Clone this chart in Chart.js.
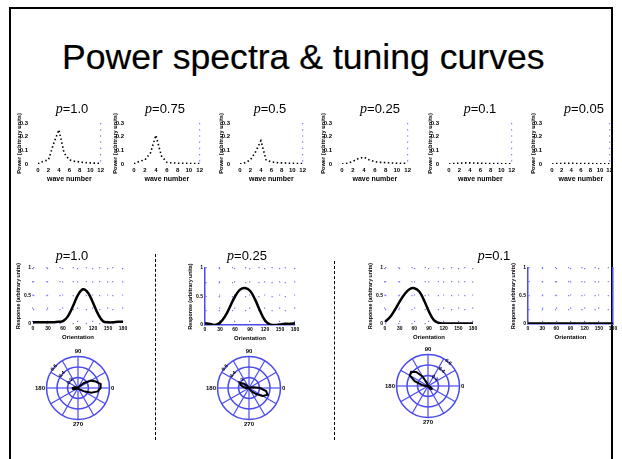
<!DOCTYPE html>
<html>
<head>
<meta charset="utf-8">
<script src="https://cdn.jsdelivr.net/npm/chart.js@4.4.1/dist/chart.umd.min.js"></script>
<style>
  body { margin: 0; width: 622px; height: 459px; position: relative; overflow: hidden; background: #fff; font-family: "Liberation Sans", Arial, sans-serif; }
  .frame { position: absolute; left: 9px; top: 7px; width: 600px; height: 480px; border: 2px solid #000; }
  .title { position: absolute; left: 62px; top: 40px; font-size: 35.6px; line-height: 35px; white-space: nowrap; -webkit-text-stroke: 0.2px #000; }
  .plabel { position: absolute; font-size: 13px; line-height: 13px; white-space: nowrap; transform: translateX(-50%); }
  .plabel i { font-family: "Liberation Serif", serif; font-size: 14px; }
  .sep { position: absolute; width: 0; border-left: 1px dashed #000; }
  canvas { position: absolute; }
</style>
</head>
<body>
<div class="frame"></div>
<div class="title">Power spectra &amp; tuning curves</div>
<div class="sep" style="left:155px; top:254px; height:186px"></div>
<div class="sep" style="left:334px; top:261px; height:179px"></div>

<script>
// power spectra (top row)
const waveNumbers = [0, 1, 2, 3, 4, 5, 6, 7, 8, 9, 10, 11, 12];
const powerP100 = [0, 0.02, 0.03, 0.15, 0.25, 0.08, 0.03, 0.02, 0.015, 0.01, 0.008, 0.006, 0.005];
const powerP075 = [0, 0.02, 0.03, 0.08, 0.21, 0.06, 0.012, 0.008, 0.006, 0.005, 0.004, 0.004, 0.003];
const powerP050 = [0, 0.01, 0.03, 0.09, 0.17, 0.03, 0.015, 0.01, 0.008, 0.006, 0.005, 0.004, 0.004];
const powerP025 = [0, 0.005, 0.02, 0.04, 0.05, 0.03, 0.016, 0.012, 0.01, 0.008, 0.006, 0.005, 0.005];
const powerP010 = [0, 0.004, 0.006, 0.008, 0.008, 0.007, 0.005, 0.004, 0.003, 0.003, 0.002, 0.002, 0.002];
const powerP005 = [0, 0.003, 0.004, 0.005, 0.005, 0.004, 0.004, 0.003, 0.003, 0.002, 0.002, 0.002, 0.002];
const spectraLabels = ['1.0', '0.75', '0.5', '0.25', '0.1', '0.05'];
const powerTicks = [0, 0.1, 0.2, 0.3];

// tuning curves (middle row)
const orientations = [0, 10, 20, 30, 40, 50, 60, 70, 80, 90, 100, 110, 120, 130, 140, 150, 160, 170, 180];
const tuneP100 = [0.03, 0.03, 0.03, 0.03, 0.03, 0.04, 0.05, 0.14, 0.32, 0.52, 0.62, 0.56, 0.38, 0.18, 0.05, 0.03, 0.03, 0.04, 0.04];
const tuneP025 = [0.03, 0.02, 0.0, 0.04, 0.15, 0.32, 0.5, 0.62, 0.65, 0.6, 0.45, 0.25, 0.08, 0.01, 0.0, 0.01, 0.02, 0.02, 0.03];
const tuneP010 = [0.04, 0.12, 0.25, 0.4, 0.53, 0.62, 0.64, 0.58, 0.42, 0.22, 0.07, 0.02, 0.01, 0.01, 0.01, 0.01, 0.01, 0.01, 0.01];
const tuneP010b = [0.01, 0.01, 0.01, 0.01, 0.01, 0.01, 0.01, 0.01, 0.01, 0.01, 0.01, 0.01, 0.01, 0.01, 0.01, 0.01, 0.01, 0.01, 0.01];
const tuningLabels = ['1.0', '0.25', '0.1'];

// polar tuning (bottom row), one value per 10 degrees from 0 to 350
const polarP100 = [0.43, 0.44, 0.36, 0.28, 0.15, 0.05, 0.02, 0.01, 0.01, 0.01, 0.01, 0.01, 0.01, 0.01, 0.01, 0.01, 0.03, 0.07,
                   0.1, 0.1, 0.07, 0.04, 0.01, 0.01, 0.01, 0.01, 0.01, 0.01, 0.01, 0.01, 0.01, 0.02, 0.05, 0.12, 0.27, 0.38];
const polarP025 = [0.21, 0.09, 0.03, 0.01, 0.01, 0.01, 0.01, 0.01, 0.01, 0.01, 0.01, 0.01, 0.01, 0.06, 0.13, 0.19, 0.17, 0.11,
                   0.05, 0.02, 0.01, 0.01, 0.01, 0.01, 0.01, 0.01, 0.01, 0.01, 0.01, 0.01, 0.04, 0.09, 0.18, 0.3, 0.38, 0.33];
const polarP010 = [0.01, 0.01, 0.01, 0.01, 0.01, 0.01, 0.01, 0.01, 0.01, 0.01, 0.01, 0.06, 0.21, 0.35, 0.42, 0.4, 0.27, 0.12,
                   0.04, 0.01, 0.01, 0.01, 0.01, 0.01, 0.01, 0.01, 0.01, 0.01, 0.01, 0.01, 0.03, 0.07, 0.09, 0.08, 0.04, 0.01];
const polarTicks = [0.2, 0.4, 0.6];

const BLUE = '#4a4af0';
const DOTS = '#7777f2';
Chart.defaults.font.family = 'Liberation Sans';
Chart.defaults.color = '#000';
Chart.defaults.animation = false;
Chart.defaults.plugins.legend.display = false;
Chart.defaults.plugins.tooltip.enabled = false;

function addCanvas(left, top, width, height) {
    const c = document.createElement('canvas');
    c.width = width; c.height = height;
    c.style.left = left + 'px'; c.style.top = top + 'px';
    document.body.appendChild(c);
    return c.getContext('2d');
}

function addLabel(text, cx, top) {
    const d = document.createElement('div');
    d.className = 'plabel';
    d.innerHTML = '<i>p</i>=' + text;
    d.style.left = cx + 'px'; d.style.top = top + 'px';
    document.body.appendChild(d);
}

const tickFont = {size: 6, weight: 'bold'};
const smallTickFont = {size: 5, weight: 'bold'};

function spectrumChart(x0, x1, values) {
    const yW = 22, xH = 19, padTop = 12, padRight = 4;
    const ctx = addCanvas(Math.round(x0 - yW), 123 - padTop, Math.round(yW + x1 - x0 + padRight), padTop + 41 + xH);
    new Chart(ctx, {
        type: 'line',
        data: {
            labels: waveNumbers,
            datasets: [{
                data: waveNumbers.map((k, i) => ({x: k, y: values[i]})),
                borderColor: '#000',
                borderWidth: 1.6,
                borderDash: [1.5, 2.5],
                pointRadius: 0,
                tension: 0,
            }],
        },
        options: {
            responsive: false,
            layout: {padding: {top: padTop, right: padRight, left: 0, bottom: 0}},
            scales: {
                x: {
                    type: 'linear', min: 0, max: 12,
                    ticks: {stepSize: 2, padding: 3, font: tickFont, maxRotation: 0, autoSkip: false},
                    grid: {
                        drawTicks: false,
                        lineWidth: 1.2,
                        color: c => (c.tick && c.tick.value === 12) ? DOTS : 'transparent',
                    },
                    border: {display: false, dash: [1.2, 5]},
                    title: {display: true, text: 'wave number', font: {size: 7, weight: 'bold'}, padding: 0},
                    afterFit: s => { s.height = xH; },
                },
                y: {
                    min: 0, max: 0.3,
                    afterBuildTicks: s => { s.ticks = powerTicks.map(v => ({value: v})); },
                    ticks: {padding: 2, font: tickFont},
                    grid: {display: false},
                    border: {display: false},
                    title: {display: true, text: 'Power (arbitrary units)', font: {size: 5.7, weight: 'bold'}, padding: 0},
                    afterFit: s => { s.width = yW; },
                },
            },
        },
    });
}

function tuningChart(x0, x1, y1, values, blueAxes, rightAxis) {
    const yW = 18, xH = 17, padTop = 8, padRight = 7;
    const ctx = addCanvas(Math.round(x0 - yW), 268 - padTop, Math.round(yW + x1 - x0 + padRight), padTop + (y1 - 268) + xH);
    const scales = {
        x: {
            type: 'linear', min: 0, max: 180,
            ticks: {stepSize: 30, padding: 2, font: smallTickFont, maxRotation: 0, minRotation: 0, autoSkip: false},
            grid: {drawTicks: false, color: DOTS, lineWidth: 1.2},
            border: {display: blueAxes, color: BLUE, width: 1.5, dash: [1.2, 12]},
            title: {display: true, text: 'Orientation', font: {size: 6, weight: 'bold'}, padding: 0},
            afterFit: s => { s.height = xH; },
        },
        y: {
            min: 0, max: 1,
            ticks: {stepSize: 0.25, padding: 2, font: smallTickFont, autoSkip: false,
                    callback: v => (v * 2) % 1 === 0 ? String(v) : ''},
            grid: {drawTicks: false, color: DOTS, lineWidth: 1.2},
            border: {display: blueAxes, color: BLUE, width: 1.5, dash: [1.2, 12]},
            title: {display: true, text: 'Response (arbitrary units)', font: {size: 5.3, weight: 'bold'}, padding: 0},
            afterFit: s => { s.width = yW; },
        },
    };
    if (rightAxis) {
        scales.y2 = {
            position: 'right', min: 0, max: 1,
            ticks: {display: false},
            grid: {display: false, drawTicks: false},
            border: {display: true, color: BLUE, width: 1.5},
            afterFit: s => { s.width = 0; },
        };
    }
    new Chart(ctx, {
        type: 'line',
        data: {
            labels: orientations,
            datasets: [{
                data: orientations.map((o, i) => ({x: o, y: values[i]})),
                borderColor: '#000',
                borderWidth: 2.5,
                pointRadius: 0,
                tension: 0.4,
            }],
        },
        options: {
            responsive: false,
            layout: {padding: {top: padTop, right: padRight, left: 0, bottom: 0}},
            scales: scales,
        },
    });
}

function polarChart(cx, cy, values, startAngle) {
    const size = 86;
    const ctx = addCanvas(cx - 47, cy - 42, size, size);
    // radar labels run clockwise from startAngle; convert to plot angles
    const angles = [];
    for (let i = 0; i < 36; i++) {
        angles.push(((90 - startAngle - 10 * i) % 360 + 360) % 360);
    }
    new Chart(ctx, {
        type: 'radar',
        data: {
            labels: angles.map(a => String(a)),
            datasets: [{
                data: angles.map(a => values[a / 10]),
                borderColor: '#000',
                borderWidth: 2,
                pointRadius: 0,
                fill: false,
                tension: 0,
            }],
        },
        options: {
            responsive: false,
            layout: {padding: 0},
            scales: {
                r: {
                    min: 0, max: 0.6, startAngle: startAngle,
                    afterBuildTicks: s => { s.ticks = [0].concat(polarTicks).map(v => ({value: v})); },
                    ticks: {showLabelBackdrop: false, font: {size: 5, weight: 'bold'}, z: 2},
                    grid: {circular: true, color: BLUE, lineWidth: 1.5},
                    angleLines: {
                        color: c => angles[c.index] % 30 === 0 ? BLUE : 'transparent',
                        lineWidth: 1.2,
                    },
                    pointLabels: {
                        padding: -3,
                        font: {size: 6, weight: 'bold'},
                        callback: l => ['0', '90', '180', '270'].includes(l) ? l : '',
                    },
                },
            },
        },
    });
}

const spectraAreas = [[37.5, 102.5], [134, 202], [240, 305], [342, 410], [449, 514], [552, 612]];
const spectraValues = [powerP100, powerP075, powerP050, powerP025, powerP010, powerP005];
const spectraLabelX = [72, 165, 270, 380, 480, 584];
spectraAreas.forEach((a, i) => {
    spectrumChart(a[0], a[1], spectraValues[i]);
    addLabel(spectraLabels[i], spectraLabelX[i], 102);
});

tuningChart(33, 123, 324, tuneP100, false, false);
tuningChart(205, 295, 325, tuneP025, true, false);
tuningChart(385, 473, 324, tuneP010, false, false);
tuningChart(528, 613, 324, tuneP010b, true, true);
addLabel(tuningLabels[0], 72, 249);
addLabel(tuningLabels[1], 247, 249);
addLabel(tuningLabels[2], 494, 249);

polarChart(79, 388, polarP100, -50);
polarChart(250, 388, polarP025, -50);
polarChart(429, 386, polarP010, 40);
</script>
</body>
</html>
